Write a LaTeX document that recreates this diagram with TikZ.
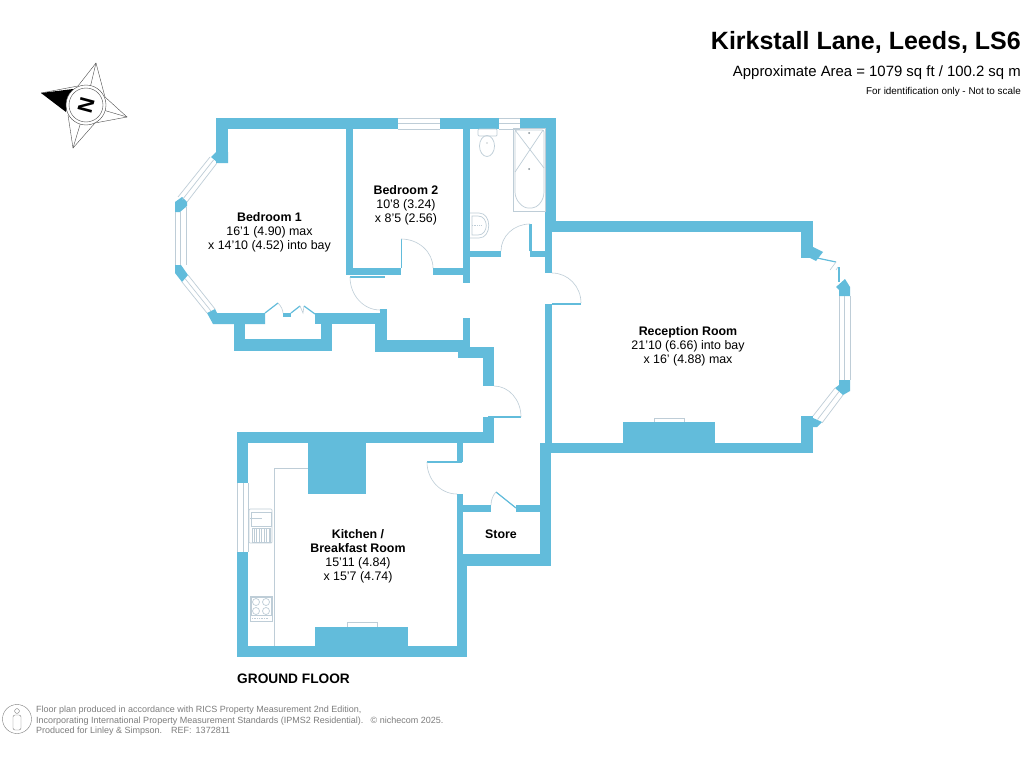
\documentclass[tikz,border=0pt]{standalone}
\usepackage{fontspec}
\setmainfont{Liberation Sans}
\usepackage{xcolor}
\usetikzlibrary{positioning,calc}
\definecolor{wallblue}{RGB}{98,188,219}
\definecolor{fittinggrey}{RGB}{190,205,215}
\definecolor{footgrey}{RGB}{125,125,125}
\tikzset{
	wall/.style={fill=wallblue,draw=none},
	pane/.style={draw=fittinggrey,line width=0.7pt},
	swing/.style={draw=fittinggrey,line width=0.6pt},
	leaf/.style={draw=wallblue,line width=1.2pt},
	fitting/.style={draw=fittinggrey,line width=0.7pt},
	roomlabel/.style={align=center,font=\fontsize{12.4}{14}\selectfont},
	footnote/.style={anchor=base west,text=footgrey,inner sep=0pt,font=\fontsize{9}{11}\selectfont},
	starline/.style={draw=black!70,line width=0.4pt}
}
\begin{document}
\begin{tikzpicture}[x=1pt,y=-1pt]
	\useasboundingbox (0,0) rectangle (1024,768);
	\fill[white] (0,0) rectangle (1024,768);

	\fill[wall] (216,118) rectangle (398,129);
	\fill[wall] (216,118) rectangle (228,163);
	\fill[wall] (216,152)--(211,157)--(218,163)--(228,163)--(228,152)--cycle;
	\fill[wall] (182,197)--(187,202)--(187,206)--(180,212)--(175,212)--(175,202)--cycle;
	\fill[wall] (175,265)--(181,265)--(188,275)--(182,282)--(175,273)--cycle;
	\fill[wall] (207,313)--(215,309)--(217,313)--(265,313)--(265,324)--(213,324)--cycle;
	\fill[wall] (265,313) rectangle (234,324);
	\fill[wall] (234,313) rectangle (245,351);
	\fill[wall] (234,339) rectangle (332,351);
	\fill[wall] (321,313) rectangle (332,351);
	\fill[wall] (283,313) rectangle (291,317);
	\fill[wall] (315,313) rectangle (387,324);
	\fill[wall] (380,309) rectangle (387,324);
	\fill[wall] (375,313) rectangle (387,352);
	\fill[wall] (375,340) rectangle (470,352);
	\fill[wall] (463,318) rectangle (470,352);
	\fill[wall] (458,347) rectangle (494,358);
	\fill[wall] (483,347) rectangle (494,386);

	\fill[wall] (346,118) rectangle (353,275);
	\fill[wall] (346,268) rectangle (401,275);
	\fill[wall] (433,268) rectangle (470,275);
	\fill[wall] (463,118) rectangle (470,283);
	\fill[wall] (440,118) rectangle (499,129);
	\fill[wall] (520,118) rectangle (556,129);
	\fill[wall] (545,118) rectangle (556,232);
	\fill[wall] (470,251) rectangle (501,257);
	\fill[wall] (530,224) rectangle (532,257);
	\fill[wall] (530,251) rectangle (545,257);
	\fill[wall] (545,222) rectangle (552,273);
	\fill[wall] (545,304) rectangle (552,443);

	\fill[wall] (545,221) rectangle (813,232);
	\fill[wall] (801,221) rectangle (813,258);
	\fill[wall] (813,247)--(823,252)--(816,261)--(810,258)--(805,250)--cycle;
	\fill[wall] (845,279)--(850,287)--(850,296)--(839,296)--(839,290)--(836,287)--cycle;
	\fill[wall] (839,380)--(850,380)--(850,391)--(843,395)--(835,388)--(839,385)--cycle;
	\fill[wall] (801,416) rectangle (813,453);
	\fill[wall] (813,418)--(822,422)--(817,427)--(810,427)--(810,418)--cycle;
	\fill[wall] (540,443) rectangle (813,453);
	\fill[wall] (623,422) rectangle (715,443);

	\fill[wall] (237,432) rectangle (494,443);
	\fill[wall] (483,417) rectangle (494,443);
	\fill[wall] (237,432) rectangle (248,483);
	\fill[wall] (237,552) rectangle (248,657);
	\fill[wall] (237,646) rectangle (467,657);
	\fill[wall] (457,554) rectangle (467,657);
	\fill[wall] (457,494) rectangle (463,566);
	\fill[wall] (457,443) rectangle (463,462);
	\fill[wall] (457,554) rectangle (551,566);
	\fill[wall] (540,443) rectangle (551,566);
	\fill[wall] (463,505) rectangle (491,512);
	\fill[wall] (516,505) rectangle (540,512);
	\fill[wall] (308,443) rectangle (366,494);
	\fill[wall] (315,627) rectangle (408,646);

	\draw[pane] (398,118)--(440,118) (398,123.5)--(440,123.5) (398,129)--(440,129);
	\draw[pane] (499,118)--(520,118) (499,123.5)--(520,123.5) (499,129)--(520,129);
	\draw[pane] (210,157)--(178,197) (213.5,160)--(182.5,199.5) (217,163)--(187,202);
	\draw[pane] (175,212)--(175,265) (180.5,212)--(180.5,265) (186,207)--(186,265);
	\draw[pane] (182,282)--(207,313) (185,278.5)--(211,311) (188,275)--(215,309);
	\draw[pane] (839,296)--(839,380) (844.5,296)--(844.5,380) (850,296)--(850,380);
	\draw[pane] (835,388)--(813,416) (839,391.5)--(817.5,419.5) (843,395)--(822,423);
	\draw[pane] (237,483)--(237,552) (243,483)--(243,552) (248,483)--(248,552);
	\draw[fitting] (654,422)--(654,418)--(684,418)--(684,422);
	\draw[fitting] (347,627)--(347,622)--(377,622)--(377,627);

	\draw[leaf] (350,277)--(385,277);
	\draw[swing] (350,277) arc[start angle=180,end angle=90,x radius=30,y radius=33];
	\draw[leaf,line width=0.8pt] (401,268)--(401,239);
	\draw[swing] (401,239) arc[start angle=-90,end angle=0,x radius=32,y radius=29];
	\draw[leaf] (530,251)--(530,224);
	\draw[swing] (530,224) arc[start angle=-90,end angle=-180,x radius=29,y radius=27];
	\draw[leaf] (552,304)--(581,304);
	\draw[swing] (552,273) arc[start angle=-90,end angle=0,x radius=29,y radius=30];
	\draw[leaf] (488,417)--(521,417);
	\draw[swing] (494,386) arc[start angle=-90,end angle=0,x radius=27,y radius=31];
	\draw[leaf] (427,462)--(462,462);
	\draw[swing] (427,462) arc[start angle=180,end angle=90,x radius=30,y radius=32];
	\draw[leaf] (496,492)--(516,508);
	\draw[swing] (496,492)..controls (493,495) and (491,500)..(491,505);
	\draw[leaf] (265,313)--(278,303);
	\draw[swing] (278,303)..controls (281,306) and (283,310)..(283,313);
	\draw[leaf] (291,313)--(300,306);
	\draw[swing] (300,306)--(303,313)--(304,306);
	\draw[leaf] (304,306)--(315,314);
	\draw[leaf] (817,258)--(836,262);
	\draw[swing] (836,262)--(830,270) (838,267)--(836,270);
	\draw[leaf] (839,267)--(839,282);

	\draw[fitting] (513,128) rectangle (545,211);
	\draw[fitting,rounded corners=2pt] (515,130)--(544,130)--(544,190)
		..controls (544,201) and (537,208)..(530,208)
		..controls (523,208) and (515,201)..(515,190)--cycle;
	\draw[fitting] (515,130)--(544,168) (543,130)--(515,172);
	\fill[fittinggrey!70!black] (529,133) circle (1) (529,169) circle (1);
	\draw[fitting,rounded corners=1pt] (478,129) rectangle (497,136);
	\draw[fitting] (487,146) ellipse (7.5 and 10.5);
	\fill[fittinggrey!70!black] (487,143) circle (0.7);
	\draw[fitting] (470,213)--(479,213)..controls (492,213) and (492,238)..(479,238)--(470,238);
	\draw[fitting] (472,216)--(478,216)..controls (489,216) and (489,235)..(478,235)--(472,235)--cycle;
	\draw[fitting,densely dotted] (472,225)--(481,225);
	\draw[fitting,rounded corners=1pt] (249,509) rectangle (272,543);
	\draw[fitting] (251,512) rectangle (271,526);
	\draw[fitting] (252,528) rectangle (270,542);
	\foreach \i in {254,256.5,...,269}
		\draw[fitting,line width=0.8pt] (\i,528)--(\i,542);
	\draw[fitting] (250,518)--(262,518);
	\draw[fitting] (250,596) rectangle (272,621);
	\draw[fitting] (251,597) rectangle (271,615);
	\foreach \i in {256,266}
		\foreach \j in {602,611}
			\draw[fitting] (\i,\j) circle (3.5);
	\draw[fitting,densely dotted] (252,618)--(268,618);
	\draw[fitting] (274,646)--(274,468)--(308,468);

	\draw[starline] (96,63)--(78,86)--(41,93) (96,63)--(105,97)--(127,117)--(95,123)--(73,148)--(68,115);
	\draw[starline] (96,63)--(86,105) (127,117)--(86,105) (73,148)--(86,105);
	\fill[black] (41,93)--(73,89)--(66,112)--cycle;
	\node[circle,draw=black!70,fill=white,line width=0.4pt,minimum size=40pt,inner sep=0pt] (compass) at (86,105) {};
	\node[circle,draw=black!70,line width=0.4pt,minimum size=34pt,inner sep=0pt] (compassin) at (86,105) {};
	\node[rotate=75,font=\bfseries\fontsize{21}{21}\selectfont,inner sep=0pt] (north) at (compass.center) {N};

	\node[anchor=base east,inner sep=0pt,font=\bfseries\fontsize{25}{28}\selectfont] (title) at (1021,49) {Kirkstall Lane, Leeds, LS6};
	\node[anchor=base east,inner sep=0pt,font=\fontsize{14.9}{17}\selectfont] (area) at (1021,76) {Approximate Area = 1079 sq ft / 100.2 sq m};
	\node[anchor=base east,inner sep=0pt,font=\fontsize{9.9}{11}\selectfont] (scale) at (1021,94) {For identification only - Not to scale};

	\node[roomlabel] (bed1) at (269.5,232.5) {\textbf{Bedroom 1}\\16'1 (4.90) max\\x 14'10 (4.52) into bay};
	\node[roomlabel] (bed2) at (406,205.5) {\textbf{Bedroom 2}\\10'8 (3.24)\\x 8'5 (2.56)};
	\node[roomlabel] (reception) at (688,346.5) {\textbf{Reception Room}\\21'10 (6.66) into bay\\x 16' (4.88) max};
	\node[roomlabel] (kitchen) at (358,556) {\textbf{Kitchen /}\\\textbf{Breakfast Room}\\15'11 (4.84)\\x 15'7 (4.74)};
	\node[roomlabel] (store) at (501,534.5) {\textbf{Store}};
	\node[anchor=base west,inner sep=0pt,font=\bfseries\fontsize{13.7}{15}\selectfont] (ground) at (237,683) {GROUND FLOOR};

	\node[footnote] (foot1) at (36,712) {Floor plan produced in accordance with RICS Property Measurement 2nd Edition,};
	\node[footnote] (foot2) at (36,723) {Incorporating International Property Measurement Standards (IPMS2 Residential).\hspace{4pt} © nichecom 2025.};
	\node[footnote] (foot3) at (36,733) {Produced for Linley \& Simpson.\quad REF:\, 1372811};
	\node[circle,draw=footgrey,line width=0.4pt,minimum size=29pt,inner sep=0pt] (person) at (17,719) {};
	\draw[footgrey,line width=0.4pt] (17,711) circle (2.4);
	\draw[footgrey,line width=0.4pt,rounded corners=2pt] (13,715) rectangle (21,730);
\end{tikzpicture}
\end{document}
